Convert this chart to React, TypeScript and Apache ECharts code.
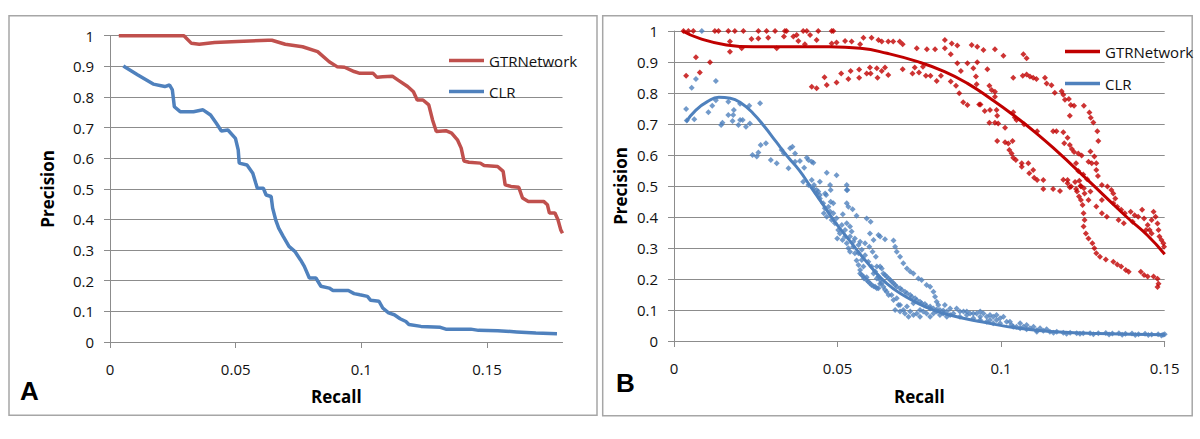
import React, { useEffect, useRef } from "react";
import * as echarts from "echarts";

// ---------- Panel A : precision-recall curves ----------
const gtrLineA: [number, number][] = [
  [0.0035, 1.0], [0.0294, 1.0], [0.0324, 0.975], [0.0355, 0.972], [0.0416, 0.978], [0.0507, 0.981],
  [0.0629, 0.985], [0.0644, 0.985], [0.0697, 0.972], [0.0766, 0.964], [0.0826, 0.948], [0.0872, 0.915],
  [0.0903, 0.899], [0.0933, 0.897], [0.0971, 0.883], [0.0994, 0.877], [0.1047, 0.877], [0.1062, 0.864],
  [0.1085, 0.866], [0.1123, 0.868], [0.1146, 0.855], [0.1184, 0.834], [0.1207, 0.817], [0.1222, 0.79],
  [0.1245, 0.79], [0.1268, 0.774], [0.1283, 0.725], [0.1298, 0.687], [0.1336, 0.69], [0.1359, 0.682],
  [0.1382, 0.66], [0.1397, 0.633], [0.1408, 0.591], [0.1428, 0.587], [0.1473, 0.584], [0.1488, 0.576],
  [0.1542, 0.573], [0.1564, 0.557], [0.1572, 0.513], [0.1595, 0.508], [0.1626, 0.505], [0.1641, 0.47],
  [0.1664, 0.459], [0.1725, 0.459], [0.174, 0.448], [0.1748, 0.421], [0.177, 0.421], [0.1782, 0.399],
  [0.1793, 0.366], [0.18, 0.355],
];

const clrLineA: [number, number][] = [
  [0.0053, 0.901], [0.0111, 0.872], [0.0172, 0.842], [0.0218, 0.834], [0.0237, 0.839], [0.0248, 0.823],
  [0.0256, 0.768], [0.0279, 0.752], [0.0332, 0.752], [0.037, 0.758], [0.04, 0.741], [0.0423, 0.714],
  [0.0443, 0.689], [0.0469, 0.692], [0.0499, 0.665], [0.051, 0.627], [0.0514, 0.584], [0.0545, 0.578],
  [0.0568, 0.551], [0.058, 0.518], [0.0586, 0.502], [0.061, 0.502], [0.0621, 0.48], [0.0641, 0.475],
  [0.0647, 0.437], [0.0659, 0.399], [0.0671, 0.372], [0.0689, 0.345], [0.0712, 0.312], [0.0735, 0.296],
  [0.0758, 0.268], [0.0773, 0.247], [0.0793, 0.209], [0.0819, 0.209], [0.0839, 0.182], [0.0872, 0.176],
  [0.0887, 0.168], [0.0948, 0.168], [0.0971, 0.158], [0.0994, 0.154], [0.1024, 0.149], [0.1037, 0.136],
  [0.107, 0.133], [0.1085, 0.111], [0.1108, 0.095], [0.1131, 0.089], [0.1154, 0.076], [0.1177, 0.067],
  [0.1189, 0.057], [0.1237, 0.051], [0.1314, 0.048], [0.1336, 0.042], [0.1435, 0.042], [0.1466, 0.038],
  [0.1542, 0.037], [0.1618, 0.033], [0.1694, 0.029], [0.1778, 0.027],
];

// ---------- Panel B : scatter points and trend lines ----------
const gtrPointsB: [number, number][] = [
  [0.0029, 1], [0.0044, 1], [0.0059, 1], [0.0125, 1], [0.0136, 1], [0.0166, 1], [0.0186, 1], [0.0212, 1],
  [0.0258, 1], [0.0283, 1], [0.0309, 1], [0.0339, 1], [0.0344, 1], [0.0395, 1], [0.0406, 1], [0.0441, 1],
  [0.0482, 1], [0.0487, 1],
  [0.0258, 0.976], [0.0237, 0.974], [0.0288, 0.978], [0.0336, 0.982], [0.0365, 0.982], [0.0375, 0.987],
  [0.0416, 0.987], [0.0436, 0.971], [0.038, 0.968], [0.0171, 0.966], [0.0207, 0.944], [0.0314, 0.944],
  [0.04, 0.957], [0.0482, 0.96], [0.0497, 0.963], [0.0523, 0.968], [0.0543, 0.966], [0.0579, 0.978],
  [0.0604, 0.978], [0.0625, 0.971], [0.0569, 0.957], [0.0171, 0.933],
  [0.0037, 0.856], [0.0067, 0.915], [0.0079, 0.866], [0.011, 0.899],
  [0.0421, 0.82], [0.0436, 0.815], [0.046, 0.851], [0.0467, 0.826], [0.0497, 0.834], [0.0511, 0.863],
  [0.0533, 0.845], [0.054, 0.871], [0.0566, 0.876], [0.0566, 0.849], [0.0589, 0.863], [0.0599, 0.882],
  [0.0601, 0.863], [0.062, 0.88], [0.0622, 0.849],
  [0.0635, 0.966], [0.0655, 0.966], [0.067, 0.966], [0.069, 0.966], [0.0699, 0.957], [0.0742, 0.944],
  [0.0773, 0.941], [0.0798, 0.941], [0.0828, 0.971], [0.0849, 0.96], [0.0866, 0.953], [0.0828, 0.944],
  [0.0846, 0.925], [0.091, 0.955], [0.0927, 0.949], [0.0946, 0.939], [0.0981, 0.941], [0.1007, 0.92],
  [0.1068, 0.925], [0.1078, 0.912],
  [0.0635, 0.871], [0.0645, 0.882], [0.0655, 0.858], [0.0699, 0.877], [0.0729, 0.863], [0.0736, 0.882],
  [0.0749, 0.866], [0.0761, 0.885], [0.077, 0.856], [0.0784, 0.856], [0.0803, 0.839], [0.0816, 0.856],
  [0.0846, 0.837], [0.0866, 0.896], [0.0862, 0.823], [0.0872, 0.799], [0.0884, 0.77], [0.0897, 0.761],
  [0.0877, 0.871], [0.0897, 0.896], [0.0915, 0.88], [0.0923, 0.853], [0.0925, 0.828], [0.0927, 0.899],
  [0.0958, 0.877], [0.0964, 0.823], [0.0971, 0.81], [0.0981, 0.804], [0.0981, 0.788], [0.0933, 0.763],
  [0.0937, 0.763], [0.095, 0.742], [0.0966, 0.745], [0.0986, 0.745], [0.0988, 0.727], [0.0964, 0.704],
  [0.0981, 0.704], [0.0991, 0.702], [0.1012, 0.688], [0.0988, 0.645], [0.1012, 0.641], [0.1022, 0.637],
  [0.1035, 0.645], [0.1025, 0.616], [0.1032, 0.605], [0.1037, 0.591], [0.1045, 0.584], [0.1063, 0.573],
  [0.1063, 0.562], [0.1083, 0.573], [0.1086, 0.541], [0.1098, 0.552], [0.1101, 0.527], [0.111, 0.519],
  [0.1129, 0.519], [0.1129, 0.49], [0.1159, 0.49], [0.118, 0.484], [0.1037, 0.738], [0.1042, 0.721],
  [0.1047, 0.713], [0.107, 0.699], [0.111, 0.677],
  [0.1037, 0.849], [0.1066, 0.856], [0.1078, 0.86], [0.1088, 0.853], [0.1098, 0.849], [0.1108, 0.845],
  [0.1134, 0.849], [0.1139, 0.831], [0.1154, 0.825], [0.1164, 0.801], [0.1185, 0.806], [0.119, 0.794],
  [0.1195, 0.778], [0.1207, 0.781], [0.1213, 0.761], [0.1223, 0.759], [0.121, 0.727], [0.1253, 0.759],
  [0.127, 0.737], [0.1274, 0.72], [0.1282, 0.705], [0.1294, 0.677], [0.1297, 0.645],
  [0.1159, 0.677], [0.1169, 0.677], [0.119, 0.673], [0.1193, 0.638], [0.1203, 0.656], [0.121, 0.632],
  [0.1216, 0.619], [0.1223, 0.61], [0.1236, 0.605], [0.1246, 0.598], [0.1267, 0.578], [0.1277, 0.573],
  [0.1229, 0.573], [0.1236, 0.548], [0.1251, 0.537], [0.1263, 0.522], [0.119, 0.52], [0.1203, 0.509],
  [0.121, 0.496], [0.1229, 0.49], [0.1239, 0.517], [0.1243, 0.501], [0.1253, 0.493],
  [0.1203, 0.519], [0.1214, 0.498], [0.1232, 0.482], [0.1238, 0.466], [0.1244, 0.455], [0.1249, 0.439],
  [0.1252, 0.412], [0.1255, 0.39], [0.1252, 0.369], [0.1259, 0.347], [0.1267, 0.331], [0.1279, 0.315],
  [0.1285, 0.299], [0.1291, 0.283], [0.1302, 0.272], [0.132, 0.263], [0.1343, 0.256], [0.1355, 0.247],
  [0.1367, 0.24], [0.1381, 0.229], [0.139, 0.223], [0.1427, 0.223], [0.1437, 0.213], [0.1448, 0.208],
  [0.1466, 0.208], [0.1478, 0.201], [0.1481, 0.185], [0.1478, 0.174],
  [0.1273, 0.611], [0.1285, 0.595], [0.1291, 0.573], [0.1291, 0.552], [0.1296, 0.532], [0.1308, 0.503],
  [0.1325, 0.498], [0.1337, 0.487], [0.1343, 0.476], [0.1349, 0.46], [0.1343, 0.444], [0.1355, 0.433],
  [0.1367, 0.423], [0.1378, 0.412], [0.1396, 0.417], [0.1408, 0.406], [0.1419, 0.401], [0.1431, 0.423],
  [0.1437, 0.395], [0.1448, 0.374], [0.1454, 0.358], [0.146, 0.39], [0.1466, 0.417], [0.1472, 0.401],
  [0.1478, 0.379], [0.1481, 0.358], [0.1484, 0.337], [0.149, 0.326], [0.1496, 0.315], [0.1498, 0.304],
  [0.1443, 0.358], [0.146, 0.347], [0.1308, 0.455], [0.1291, 0.434], [0.1308, 0.412], [0.1323, 0.401],
  [0.1359, 0.39], [0.1375, 0.38], [0.1402, 0.385], [0.1267, 0.455], [0.1273, 0.482], [0.1255, 0.476],
  [0.1244, 0.498], [0.1226, 0.513],
];

const clrPointsB: [number, number][] = [
  [0.0085, 1.0], [0.0054, 0.817], [0.0067, 0.845], [0.0128, 0.839], [0.0037, 0.748], [0.0039, 0.711],
  [0.0062, 0.715], [0.0105, 0.738], [0.0117, 0.759], [0.0128, 0.777], [0.0144, 0.697], [0.0148, 0.704],
  [0.0166, 0.729], [0.0166, 0.772], [0.0179, 0.71], [0.0181, 0.729], [0.0183, 0.745], [0.0197, 0.697],
  [0.0202, 0.713], [0.0202, 0.765], [0.021, 0.713], [0.022, 0.691], [0.023, 0.759], [0.0232, 0.702],
  [0.0263, 0.767], [0.024, 0.6], [0.0253, 0.595], [0.0258, 0.608], [0.0265, 0.632], [0.0281, 0.638],
  [0.0296, 0.584], [0.0314, 0.573], [0.0329, 0.616], [0.0336, 0.605], [0.035, 0.557], [0.0355, 0.622],
  [0.0362, 0.627], [0.037, 0.605], [0.037, 0.578], [0.0385, 0.581], [0.0398, 0.559], [0.0406, 0.591],
  [0.0411, 0.584], [0.0421, 0.578], [0.0426, 0.575], [0.0421, 0.519], [0.0428, 0.503], [0.0441, 0.482],
  [0.0446, 0.514], [0.0462, 0.476], [0.0467, 0.543], [0.0477, 0.503], [0.0479, 0.487], [0.0497, 0.535],
  [0.0528, 0.503], [0.053, 0.487],
  [0.0395, 0.514], [0.0411, 0.503], [0.0426, 0.492], [0.0436, 0.476], [0.0446, 0.46], [0.0456, 0.444],
  [0.0461, 0.428], [0.0458, 0.412], [0.0467, 0.401], [0.0477, 0.418], [0.0482, 0.39], [0.0492, 0.38],
  [0.0502, 0.358], [0.0507, 0.347], [0.0499, 0.331], [0.0515, 0.326], [0.0523, 0.337], [0.0528, 0.315],
  [0.0533, 0.299], [0.0538, 0.288], [0.0548, 0.304], [0.0553, 0.283], [0.0558, 0.26], [0.0564, 0.245],
  [0.0569, 0.229], [0.0574, 0.213], [0.0581, 0.202], [0.0589, 0.206], [0.0594, 0.191], [0.0604, 0.181],
  [0.0615, 0.175], [0.0625, 0.17],
  [0.0528, 0.487], [0.0465, 0.471], [0.0487, 0.444], [0.0479, 0.449], [0.0516, 0.409], [0.0528, 0.444],
  [0.0533, 0.433], [0.0546, 0.425], [0.0558, 0.404], [0.0589, 0.395], [0.0601, 0.385], [0.0599, 0.347],
  [0.061, 0.326], [0.0625, 0.342], [0.0584, 0.315], [0.0597, 0.304], [0.0607, 0.288], [0.0617, 0.272],
  [0.0528, 0.38], [0.0538, 0.369], [0.0543, 0.353], [0.0553, 0.331], [0.0569, 0.32], [0.0564, 0.283],
  [0.0574, 0.261], [0.0579, 0.24], [0.062, 0.24], [0.061, 0.218], [0.062, 0.202], [0.063, 0.185],
  [0.0436, 0.487], [0.0446, 0.471], [0.0472, 0.433], [0.0487, 0.412], [0.0497, 0.396], [0.0513, 0.374],
  [0.0523, 0.358], [0.0538, 0.337], [0.0548, 0.32], [0.0564, 0.31], [0.0574, 0.294], [0.0584, 0.277],
  [0.0594, 0.256], [0.0604, 0.24], [0.0615, 0.224], [0.0625, 0.208], [0.0569, 0.218], [0.0579, 0.208],
  [0.0589, 0.197], [0.0599, 0.186], [0.061, 0.177], [0.062, 0.17],
  [0.063, 0.337], [0.0645, 0.328], [0.0671, 0.324], [0.0676, 0.304], [0.0681, 0.288], [0.0691, 0.272],
  [0.0701, 0.251], [0.0712, 0.234], [0.0722, 0.224], [0.0732, 0.218], [0.0747, 0.202], [0.0757, 0.197],
  [0.0772, 0.181], [0.0783, 0.175], [0.0793, 0.159], [0.0798, 0.143], [0.0803, 0.127], [0.0808, 0.116],
  [0.063, 0.24], [0.064, 0.218], [0.065, 0.208], [0.0661, 0.197], [0.0671, 0.186], [0.0681, 0.175],
  [0.0696, 0.165], [0.0712, 0.154], [0.0727, 0.143], [0.0742, 0.132], [0.0757, 0.122], [0.0772, 0.113],
  [0.0793, 0.105], [0.0813, 0.1], [0.0834, 0.095],
  [0.0635, 0.234], [0.0645, 0.213], [0.0656, 0.202], [0.0666, 0.191], [0.0676, 0.181], [0.0691, 0.17],
  [0.0706, 0.159], [0.0722, 0.148], [0.0737, 0.138], [0.0752, 0.127], [0.0767, 0.119], [0.0783, 0.111],
  [0.0803, 0.102], [0.0823, 0.098],
  [0.063, 0.197], [0.064, 0.175], [0.065, 0.159], [0.0665, 0.148], [0.0681, 0.138], [0.0686, 0.116],
  [0.0701, 0.1], [0.0722, 0.095], [0.0732, 0.084], [0.0752, 0.078], [0.0772, 0.089], [0.0793, 0.089],
  [0.0813, 0.084], [0.0828, 0.116], [0.0834, 0.078], [0.0854, 0.089], [0.0864, 0.105], [0.0885, 0.095],
  [0.0905, 0.089], [0.0925, 0.089], [0.0936, 0.078], [0.0956, 0.078], [0.0976, 0.078], [0.0986, 0.068],
  [0.0997, 0.073], [0.1017, 0.062], [0.1032, 0.052], [0.1047, 0.046], [0.1068, 0.046], [0.1088, 0.041],
  [0.1109, 0.035], [0.1129, 0.033], [0.1149, 0.03], [0.117, 0.03], [0.119, 0.027], [0.1211, 0.027],
  [0.1231, 0.025], [0.1251, 0.025], [0.1272, 0.025], [0.1297, 0.025],
  [0.0635, 0.186], [0.0645, 0.165], [0.0656, 0.148], [0.0671, 0.132], [0.0676, 0.1], [0.0691, 0.095],
  [0.0706, 0.089], [0.0717, 0.078], [0.0742, 0.089], [0.0762, 0.095], [0.0783, 0.078], [0.0803, 0.095],
  [0.0823, 0.089], [0.0844, 0.084], [0.0874, 0.078], [0.0895, 0.095], [0.0915, 0.089], [0.0946, 0.089],
  [0.0966, 0.068], [0.0997, 0.057], [0.1037, 0.046], [0.1058, 0.041], [0.1078, 0.038], [0.1109, 0.03],
  [0.116, 0.027], [0.12, 0.023], [0.1241, 0.023], [0.1282, 0.022],
  [0.0844, 0.105], [0.0874, 0.095], [0.0895, 0.084], [0.0915, 0.073], [0.0936, 0.068], [0.0956, 0.062],
  [0.0976, 0.057], [0.0936, 0.095], [0.0966, 0.084], [0.0986, 0.084], [0.1007, 0.078], [0.1027, 0.062],
  [0.1058, 0.057], [0.1078, 0.052], [0.1099, 0.046], [0.1119, 0.041], [0.1139, 0.038],
  [0.0732, 0.122], [0.0712, 0.111], [0.0691, 0.116], [0.0752, 0.1], [0.0783, 0.105],
  [0.132, 0.026], [0.134, 0.024], [0.136, 0.025], [0.138, 0.023], [0.14, 0.024], [0.142, 0.022],
  [0.144, 0.023], [0.146, 0.021], [0.148, 0.022], [0.1495, 0.02], [0.15, 0.022], [0.133, 0.021],
  [0.137, 0.02], [0.141, 0.019], [0.145, 0.019], [0.149, 0.018],
];

const gtrTrendB: [number, number][] = [
  [0.0026, 1.0], [0.0078, 0.976], [0.016, 0.955], [0.0242, 0.949], [0.0359, 0.949], [0.0476, 0.949],
  [0.057, 0.944], [0.0651, 0.928], [0.0745, 0.901], [0.0827, 0.869], [0.0897, 0.831], [0.0967, 0.782],
  [0.1037, 0.729], [0.1108, 0.67], [0.1178, 0.605], [0.1248, 0.536], [0.1318, 0.466], [0.1388, 0.396],
  [0.1447, 0.341], [0.15, 0.28],
];

const clrTrendB: [number, number][] = [
  [0.0037, 0.707], [0.0067, 0.745], [0.0102, 0.772], [0.0137, 0.786], [0.0172, 0.783], [0.0207, 0.766],
  [0.0242, 0.734], [0.0277, 0.691], [0.0312, 0.643], [0.0347, 0.595], [0.0382, 0.552], [0.0418, 0.497],
  [0.0453, 0.444], [0.0488, 0.39], [0.0535, 0.326], [0.0593, 0.25], [0.0651, 0.185], [0.071, 0.142],
  [0.0768, 0.11], [0.0827, 0.088], [0.0944, 0.061], [0.1061, 0.04], [0.1178, 0.029], [0.1295, 0.024],
  [0.15, 0.02],
];

const xTicksA = [0, 0.05, 0.1, 0.15];
const xTicksB = [0, 0.05, 0.1, 0.15];
const seriesNames = ["GTRNetwork", "CLR"];
const panelLabels = ["A", "B"];

const FONT = "'Open Sans', 'Noto Sans', sans-serif";
const GRID_COLOR = "#8c8c8c";
const RED_A = "#c0504d";
const BLUE = "#4f81bd";
const RED_B = "#c00000";
const LEGEND_ICON = "path://M0,6 L35,6 L35,9.5 L0,9.5 Z";

function xAxisFor(gridIndex: number, max: number, ticks: number[], gap: number) {
  return {
    type: "value",
    gridIndex,
    min: 0,
    max,
    interval: 0.05,
    axisLine: { show: true, lineStyle: { color: GRID_COLOR, width: 1 } },
    axisTick: { show: true, length: 6, inside: false, customValues: ticks, lineStyle: { color: GRID_COLOR } },
    axisLabel: { customValues: ticks, fontSize: 15, color: "#111", margin: 19, fontFamily: FONT },
    splitLine: { show: false },
    name: "Recall",
    nameLocation: "middle",
    nameGap: gap,
    nameTextStyle: { fontWeight: "bold", fontSize: 17, color: "#000", fontFamily: FONT },
  };
}

function yAxisFor(gridIndex: number, gap: number) {
  return {
    type: "value",
    gridIndex,
    min: 0,
    max: 1,
    interval: 0.1,
    axisLine: { show: true, lineStyle: { color: GRID_COLOR, width: 1 } },
    axisTick: { show: true, length: 6, inside: false, lineStyle: { color: GRID_COLOR } },
    axisLabel: { fontSize: 15, color: "#111", margin: 16, fontFamily: FONT },
    splitLine: { show: true, lineStyle: { color: GRID_COLOR, width: 1 } },
    name: "Precision",
    nameLocation: "middle",
    nameGap: gap,
    nameTextStyle: { fontWeight: "bold", fontSize: 17, color: "#000", fontFamily: FONT },
  };
}

export default function App() {
  const ref = useRef<HTMLDivElement>(null);

  useEffect(() => {
    if (!ref.current) return;
    const chart = echarts.init(ref.current, undefined, { renderer: "svg" });
    chart.setOption({
      animation: false,
      backgroundColor: "#ffffff",
      textStyle: { fontFamily: FONT },
      grid: [
        { left: 110, top: 35.7, width: 452.5, height: 306.3 },
        { left: 674, top: 31, width: 490.7, height: 310 },
      ],
      xAxis: [xAxisFor(0, 0.18, xTicksA, 46), xAxisFor(1, 0.15, xTicksB, 47)],
      yAxis: [yAxisFor(0, 54), yAxisFor(1, 45)],
      legend: [
        {
          left: 444,
          top: 48,
          orient: "vertical",
          itemWidth: 35,
          itemHeight: 15,
          itemGap: 16,
          textStyle: { fontSize: 15, color: "#111", fontFamily: FONT },
          data: [
            { name: seriesNames[0], icon: LEGEND_ICON, itemStyle: { color: RED_A } },
            { name: seriesNames[1], icon: LEGEND_ICON, itemStyle: { color: BLUE } },
          ],
          selectedMode: false,
        },
        {
          left: 1060,
          top: 39,
          orient: "vertical",
          itemWidth: 35,
          itemHeight: 15,
          itemGap: 17,
          textStyle: { fontSize: 15, color: "#111", fontFamily: FONT },
          data: [
            { name: seriesNames[0], icon: LEGEND_ICON, itemStyle: { color: RED_B } },
            { name: seriesNames[1], icon: LEGEND_ICON, itemStyle: { color: BLUE } },
          ],
          selectedMode: false,
        },
      ],
      series: [
        {
          name: seriesNames[0],
          type: "line",
          xAxisIndex: 0,
          yAxisIndex: 0,
          data: gtrLineA,
          showSymbol: false,
          symbol: "none",
          lineStyle: { color: RED_A, width: 3.5 },
          itemStyle: { color: RED_A },
        },
        {
          name: seriesNames[1],
          type: "line",
          xAxisIndex: 0,
          yAxisIndex: 0,
          data: clrLineA,
          showSymbol: false,
          symbol: "none",
          lineStyle: { color: BLUE, width: 3.5 },
          itemStyle: { color: BLUE },
        },
        {
          name: seriesNames[0] + " points",
          type: "scatter",
          xAxisIndex: 1,
          yAxisIndex: 1,
          data: gtrPointsB,
          symbol: "diamond",
          symbolSize: 6,
          itemStyle: { color: RED_B },
        },
        {
          name: seriesNames[1] + " points",
          type: "scatter",
          xAxisIndex: 1,
          yAxisIndex: 1,
          data: clrPointsB,
          symbol: "diamond",
          symbolSize: 6,
          itemStyle: { color: BLUE },
        },
        {
          name: seriesNames[0] + " trend",
          type: "line",
          xAxisIndex: 1,
          yAxisIndex: 1,
          data: gtrTrendB,
          smooth: true,
          showSymbol: false,
          symbol: "none",
          lineStyle: { color: RED_B, width: 3 },
          itemStyle: { color: RED_B },
        },
        {
          name: seriesNames[1] + " trend",
          type: "line",
          xAxisIndex: 1,
          yAxisIndex: 1,
          data: clrTrendB,
          smooth: true,
          showSymbol: false,
          symbol: "none",
          lineStyle: { color: BLUE, width: 3 },
          itemStyle: { color: BLUE },
        },
      ],
      graphic: [
        {
          type: "rect",
          silent: true,
          shape: { x: 9, y: 15.7, width: 588, height: 399.5 },
          style: { fill: "none", stroke: "#a6a6a6", lineWidth: 1.5 },
        },
        {
          type: "rect",
          silent: true,
          shape: { x: 602.7, y: 15.7, width: 589.5, height: 400 },
          style: { fill: "none", stroke: "#a6a6a6", lineWidth: 1.5 },
        },
        {
          type: "text",
          x: 20,
          y: 391,
          style: {
            text: panelLabels[0],
            fontSize: 26,
            fontWeight: "bold",
            fontFamily: "'Liberation Sans', Arial, sans-serif",
            fill: "#000",
            verticalAlign: "middle",
            align: "left",
          },
        },
        {
          type: "text",
          x: 616,
          y: 383,
          style: {
            text: panelLabels[1],
            fontSize: 26,
            fontWeight: "bold",
            fontFamily: "'Liberation Sans', Arial, sans-serif",
            fill: "#000",
            verticalAlign: "middle",
            align: "left",
          },
        },
      ],
    });
    return () => chart.dispose();
  }, []);

  return (
    <div
      ref={ref}
      style={{ position: "fixed", left: 0, top: 0, width: 1200, height: 439, background: "#fff" }}
    />
  );
}
